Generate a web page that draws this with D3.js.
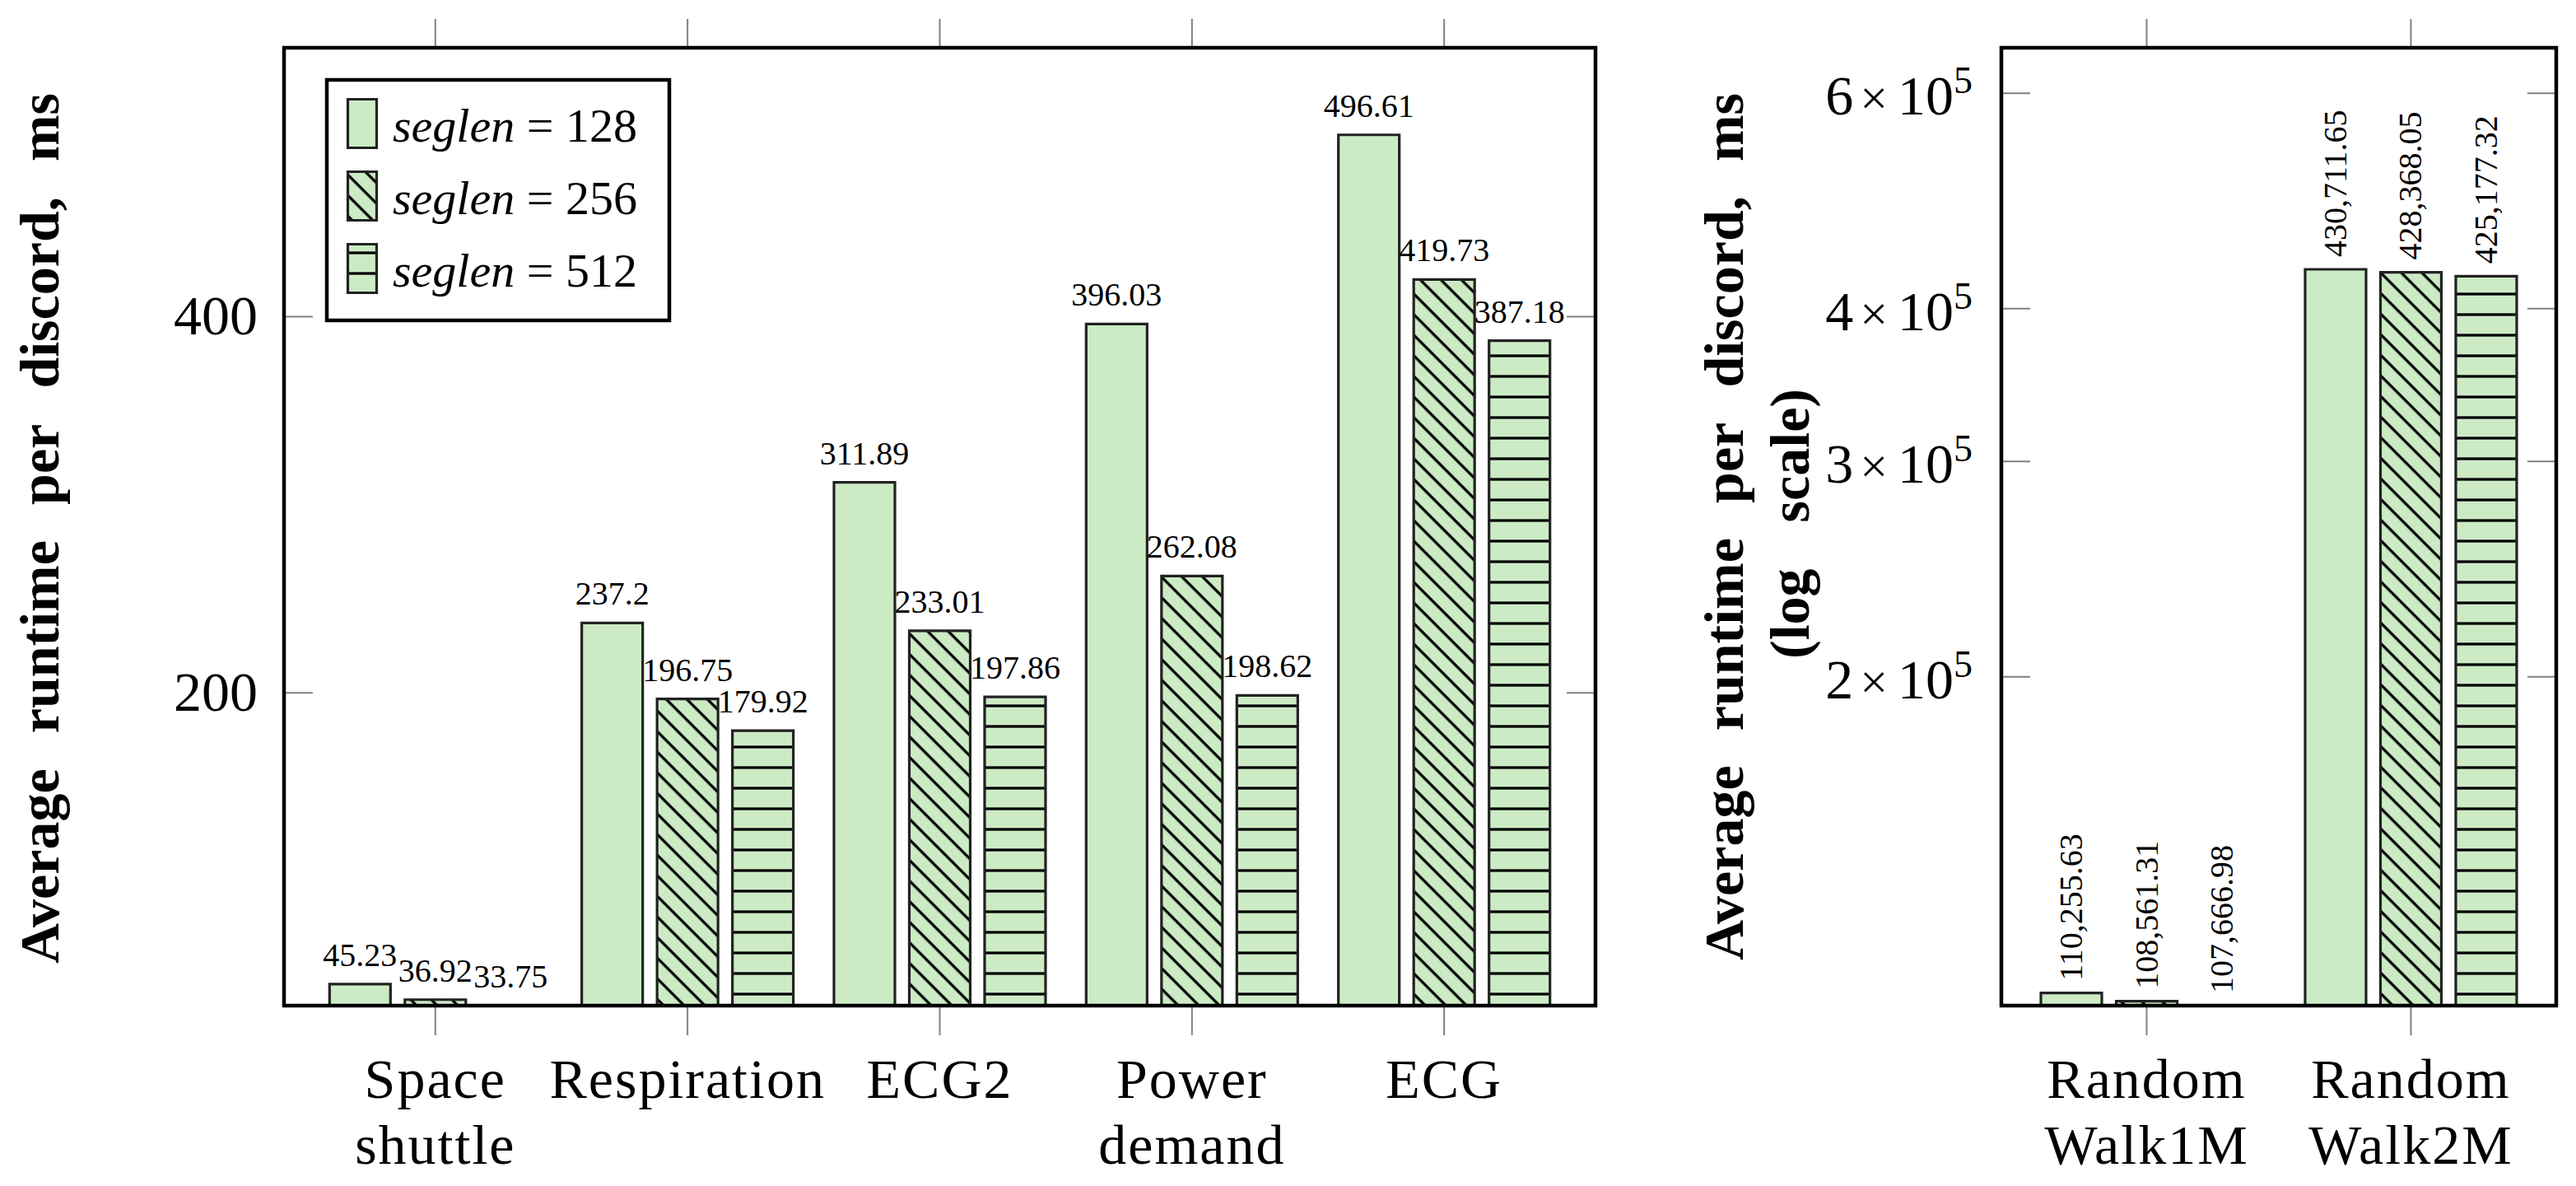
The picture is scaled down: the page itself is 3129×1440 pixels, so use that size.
<!DOCTYPE html>
<html>
<head>
<meta charset="utf-8">
<script src="https://cdn.jsdelivr.net/npm/d3@7/dist/d3.min.js"></script>
<style>
  html, body { margin: 0; padding: 0; background: #fff; }
  text { font-family: "Liberation Serif", "DejaVu Serif", serif; fill: #000; }
  .tick-label { font-size: 68px; }
  .cat-label { font-size: 68px; letter-spacing: 2px; }
  .val-label { font-size: 40px; }
  .ylab { font-size: 68px; font-weight: bold; }
  .leg-label { font-size: 58px; }
</style>
</head>
<body>
<script>
// ---------------- DATA ----------------
const seriesNames = ["128", "256", "512"];

const categoriesLeft = [["Space", "shuttle"], ["Respiration"], ["ECG2"], ["Power", "demand"], ["ECG"]];
const leftSeg128 = [45.23, 237.2, 311.89, 396.03, 496.61];
const leftSeg256 = [36.92, 196.75, 233.01, 262.08, 419.73];
const leftSeg512 = [33.75, 179.92, 197.86, 198.62, 387.18];
const leftYTicks = [200, 400];

const categoriesRight = [["Random", "Walk1M"], ["Random", "Walk2M"]];
const rightSeg128 = [110255.63, 430711.65];
const rightSeg256 = [108561.31, 428368.05];
const rightSeg512 = [107666.98, 425177.32];
const rightYTicks = [2e5, 3e5, 4e5, 6e5];

const yLabelWords = ["Average", "runtime", "per", "discord,", "ms"];
const yLabelWords2 = ["(log", "scale)"];

// ---------------- STYLE / LAYOUT ----------------
const W = 3129, H = 1440;
const FILL = "#ccebc5", EDGE = "#222", TICK = "#808080";
const BAR_W = 74, BAR_STEP = 91.5;
const PLOT_TOP = 58, PLOT_BOTTOM = 1221;

const svg = d3.select("body").append("svg")
  .attr("width", W).attr("height", H)
  .attr("viewBox", `0 0 ${W} ${H}`);
svg.append("rect").attr("width", W).attr("height", H).attr("fill", "#fff");

// patterns
const defs = svg.append("defs");
const pd = defs.append("pattern").attr("id", "diag")
  .attr("patternUnits", "userSpaceOnUse")
  .attr("width", 17.68).attr("height", 17.68)
  .attr("patternTransform", "rotate(45)");
pd.append("line").attr("x1", -2).attr("x2", 20).attr("y1", 10.4).attr("y2", 10.4)
  .attr("stroke", "#000").attr("stroke-width", 3.3);
const ph = defs.append("pattern").attr("id", "horiz")
  .attr("patternUnits", "userSpaceOnUse")
  .attr("width", 25).attr("height", 25);
ph.append("line").attr("x1", -2).attr("x2", 27).attr("y1", 7).attr("y2", 7)
  .attr("stroke", "#000").attr("stroke-width", 3.3);
const patternIds = [null, "diag", "horiz"];

function barShape(g, d, s) {
  g.append("path").attr("d", d).attr("fill", FILL);
  if (patternIds[s]) g.append("path").attr("d", d).attr("fill", `url(#${patternIds[s]})`);
  g.append("path").attr("d", d).attr("fill", "none")
    .attr("stroke", EDGE).attr("stroke-width", 3.2).attr("stroke-linejoin", "miter");
}

function panel(p) {
  const g = svg.append("g");
  const [x0, x1] = p.x.range();
  const [yb, yt] = p.y.range();

  // x ticks (outside, top and bottom) and category labels
  p.cats.forEach((c, i) => {
    const cx = p.x(i);
    g.append("line").attr("x1", cx).attr("x2", cx).attr("y1", yt - 35).attr("y2", yt)
      .attr("stroke", TICK).attr("stroke-width", 2);
    g.append("line").attr("x1", cx).attr("x2", cx).attr("y1", yb).attr("y2", yb + 36)
      .attr("stroke", TICK).attr("stroke-width", 2);
    c.forEach((ln, j) => {
      g.append("text").attr("class", "cat-label")
        .attr("x", cx).attr("y", 1333 + j * 80)
        .attr("text-anchor", "middle").text(ln);
    });
  });

  // y ticks (inside, both sides) and labels
  p.yTicks.forEach(t => {
    const ty = p.y(t);
    g.append("line").attr("x1", x0).attr("x2", x0 + 35).attr("y1", ty).attr("y2", ty)
      .attr("stroke", TICK).attr("stroke-width", 2);
    g.append("line").attr("x1", x1 - 35).attr("x2", x1).attr("y1", ty).attr("y2", ty)
      .attr("stroke", TICK).attr("stroke-width", 2);
    p.tickLabel(g, t, x0 - 32, ty);
  });

  // bars
  p.series.forEach((vals, s) => {
    vals.forEach((v, i) => {
      const cx = p.x(i) + (s - 1) * BAR_STEP;
      const top = p.y(v);
      const d = `M${cx - BAR_W / 2},${yb}V${top}H${cx + BAR_W / 2}V${yb}Z`;
      barShape(g, d, s);
      if (p.rotateLabels) {
        g.append("text").attr("class", "val-label")
          .attr("transform", `translate(${cx + 13},${top - 15}) rotate(-90)`)
          .attr("text-anchor", "start")
          .text(p.fmt(v));
      } else {
        g.append("text").attr("class", "val-label")
          .attr("x", cx).attr("y", top - 22)
          .attr("text-anchor", "middle")
          .text(p.fmt(v));
      }
    });
  });

  // frame
  g.append("rect").attr("x", x0).attr("y", yt).attr("width", x1 - x0).attr("height", yb - yt)
    .attr("fill", "none").attr("stroke", "#000").attr("stroke-width", 4.5);
}

function justifiedLabel(words, bx, yStart, yEnd) {
  const g = svg.append("g").attr("transform", `translate(${bx},${yStart}) rotate(-90)`);
  const ts = words.map(w => g.append("text").attr("class", "ylab").text(w));
  const widths = ts.map(t => t.node().getComputedTextLength());
  const gap = ((yStart - yEnd) - d3.sum(widths)) / (words.length - 1);
  let pos = 0;
  ts.forEach((t, i) => { t.attr("x", pos); pos += widths[i] + gap; });
}

// ---------------- LEFT PANEL ----------------
const xL = d3.scaleLinear().domain([-0.6, categoriesLeft.length - 1 + 0.6]).range([345, 1938]);
const yMinL = d3.min(leftSeg512.concat(leftSeg256, leftSeg128));
const yMaxL = d3.max(leftSeg128.concat(leftSeg256, leftSeg512));
const yL = d3.scaleLinear().domain([yMinL, yMaxL + 0.1 * (yMaxL - yMinL)]).range([PLOT_BOTTOM, PLOT_TOP]);

panel({
  x: xL, y: yL, cats: categoriesLeft,
  series: [leftSeg128, leftSeg256, leftSeg512],
  yTicks: leftYTicks,
  fmt: v => String(v),
  rotateLabels: false,
  tickLabel: (g, t, x, y) => {
    g.append("text").attr("class", "tick-label").attr("x", x).attr("y", y + 22)
      .attr("text-anchor", "end").text(String(t));
  }
});

// legend
(function legend() {
  const g = svg.append("g");
  g.append("rect").attr("x", 397).attr("y", 97).attr("width", 416).attr("height", 292)
    .attr("fill", "#fff").attr("stroke", "#000").attr("stroke-width", 4.5);
  seriesNames.forEach((n, s) => {
    const y0 = 120.5 + s * 88;
    const d = `M422.5,${y0 + 59}V${y0}H457.5V${y0 + 59}Z`;
    barShape(g, d, s);
    const t = g.append("text").attr("class", "leg-label").attr("x", 477).attr("y", 172 + s * 88);
    t.append("tspan").attr("font-style", "italic").text("seglen");
    t.append("tspan").text(" = " + n);
  });
})();

justifiedLabel(yLabelWords, 71, 1170, 113);

// ---------------- RIGHT PANEL ----------------
const xR = d3.scaleLinear().domain([-0.55, categoriesRight.length - 1 + 0.55]).range([2431, 3105]);
const yMinR = d3.min(rightSeg512.concat(rightSeg256, rightSeg128));
const yR = d3.scaleLog().domain([yMinR, 653700]).range([PLOT_BOTTOM, PLOT_TOP]);

panel({
  x: xR, y: yR, cats: categoriesRight,
  series: [rightSeg128, rightSeg256, rightSeg512],
  yTicks: rightYTicks,
  fmt: d3.format(",.2f"),
  rotateLabels: true,
  tickLabel: (g, t, x, y) => {
    const m = Math.round(t / 1e5);
    const tx = g.append("text").attr("class", "tick-label").attr("x", x - 3).attr("y", y + 26)
      .attr("text-anchor", "end");
    tx.append("tspan").text(String(m));
    tx.append("tspan").attr("dx", 8).attr("font-size", 60).text("\u00D7");
    tx.append("tspan").attr("dx", 12).text("10");
    tx.append("tspan").attr("dy", -26).attr("font-size", 46).text("5");
  }
});

justifiedLabel(yLabelWords, 2117, 1166, 113);
justifiedLabel(yLabelWords2, 2197, 800, 472);
</script>
</body>
</html>
